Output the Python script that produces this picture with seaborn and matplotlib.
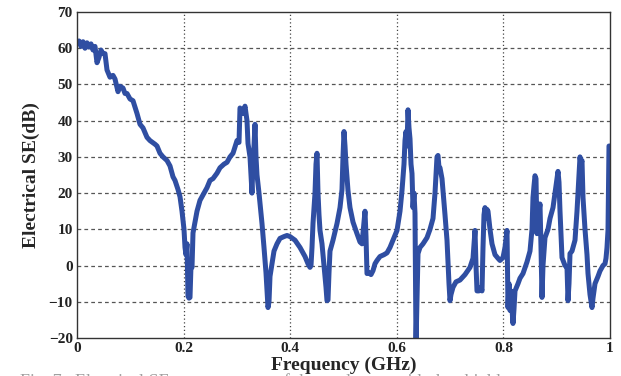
import numpy as np
import pandas as pd
import matplotlib
matplotlib.use("Agg")
import matplotlib.pyplot as plt
import seaborn as sns

# pixel-read curve: x pixel positions (axis 77..610 -> 0..1) and SE values (dB)
px = [77, 79, 81, 83, 85, 87, 89, 91, 93, 95, 97, 99, 101, 103, 105, 107, 110, 113, 115, 118,
      120, 123, 125, 127, 130, 133, 137, 140, 143, 147, 150, 155, 157, 160, 163, 167, 170, 173, 175, 178,
      180, 182, 184, 185, 186, 187, 188, 189, 190, 191, 192, 193, 195, 197, 200, 203, 207, 210, 213, 217,
      220, 224, 227, 230, 233, 237, 239, 240, 243, 245, 247, 248, 250, 251, 252, 253, 254, 255, 256, 257,
      259, 262, 264, 266, 268, 269, 270, 272, 274, 277, 280, 284, 287, 290, 295, 300, 305, 308, 310, 311,
      312, 313, 315, 316, 317, 318, 319, 320, 322, 324, 326, 327, 328, 329, 330, 333, 337, 340, 342, 343,
      344, 345, 346, 348, 350, 353, 357, 360, 362, 364, 365, 366, 367, 369, 371, 373, 375, 377, 380, 384,
      387, 390, 393, 397, 400, 402, 404, 405, 406, 407, 408, 409, 410, 411, 412, 413, 414, 415, 416, 417,
      418, 420, 423, 427, 430, 433, 435, 437, 438, 439, 440, 442, 443, 445, 447, 449, 450, 451, 453, 456,
      460, 465, 470, 473, 475, 476, 477, 479, 481, 482, 483, 484, 485, 486, 487, 488, 490, 492, 495, 498,
      500, 503, 505, 507, 508, 509, 510, 511, 512, 513, 514, 515, 518, 520, 523, 527, 530, 532, 533, 534,
      535, 536, 537, 538, 539, 540, 541, 542, 543, 545, 548, 550, 553, 555, 558, 559, 560, 562, 565, 567,
      568, 569, 570, 572, 575, 577, 579, 580, 581, 582, 583, 585, 587, 588, 590, 592, 593, 595, 598, 600,
      603, 605, 606, 607, 608, 609, 610]
se = [61.5, 62, 60.5, 61.8, 60, 61.5, 60.3, 61.2, 59.5, 60.5, 56, 57.5, 59.5, 58.5, 58.5, 54, 52, 52.5, 51.5, 48,
      49.5, 49, 47.5, 47.5, 46, 45.5, 42, 39, 38, 35.4, 34.5, 33.5, 33, 31, 30, 29, 27.5, 24.5, 23.5, 21,
      19, 15, 10, 5, 3, 6, -8.5, -9, -8.8, 0, -0.5, 9, 12, 15, 18, 19.5, 21.5, 23.5, 24, 25.5,
      27, 28, 28.5, 30, 31, 34.5, 34, 43.5, 42, 44, 40, 33.7, 30, 25, 20, 29, 33, 39, 30, 25,
      20, 11.6, 5, -2, -11.6, -10, -3, 0.5, 4, 6, 7.5, 8, 8.3, 8, 7, 5, 2.5, 0.5, -0.5, 0,
      5, 11.6, 20, 28, 31, 20, 14, 9.7, 6, 0, -6, -9.7, -9.5, -2, 4, 7, 11.6, 16, 21, 30,
      37, 33, 28, 20.7, 16, 12, 8.8, 6.5, 6, 12, 15, 8, -2.2, -2, -2.5, -1.4, 0.5, 1.4, 2.5, 3,
      3.5, 5, 7, 9.7, 15, 20.7, 28, 34.5, 37, 33, 43, 38, 35, 28, 25.4, 16, 20, 14.4, -22, -10,
      3.3, 5, 6, 7.7, 10, 13, 20, 30, 30.4, 27, 27, 24, 20.7, 14, 7, -5, -9.7, -8, -6, -4.5,
      -4, -2.5, -0.5, 2, 9.7, 0, -7, -7, -6, -7, 5, 14, 16, 13, 15.5, 15, 10, 6, 3, 2,
      1.4, 2.2, 5, 9.7, -11.6, -5, -12.4, -7, -12, -16, -12, -7, -5, -3.5, -2.2, 1, 4, 10, 18.8, 22,
      24.8, 24, 8.8, 17, 15, 17, 5, -8.8, 0, 7.7, 10, 13, 16, 20, 26, 23, 15, 2.2, 0, -0.5,
      -9.7, -5, 3.3, 4, 7, 15, 25, 30, 28, 29, 18.8, 10, 3, -2.2, -8, -11.6, -9, -5, -3, -1.5,
      0, 0.5, 2, 5, 9.7, 33, 33]

freq = [(p - 77) / 533.0 for p in px]
xticks = [0, 0.2, 0.4, 0.6, 0.8, 1]
xtick_labels = ["0", "0.2", "0.4", "0.6", "0.8", "1"]
yticks = [-20, -10, 0, 10, 20, 30, 40, 50, 60, 70]

df = pd.DataFrame({"Frequency": freq, "SE": se})

sns.set_style("white")
plt.rcParams["font.family"] = ["Liberation Serif", "DejaVu Serif"]

fig = plt.figure(figsize=(6.21, 3.76), dpi=100)
ax = fig.add_axes([77 / 621, 38 / 376, 533 / 621, 326 / 376])

sns.lineplot(data=df, x="Frequency", y="SE", ax=ax, color="#2f4ea2", lw=3.6,
             sort=False, estimator=None)

ax.set_xlim(0, 1)
ax.set_ylim(-20, 70)
ax.set_xticks(xticks)
ax.set_xticklabels(xtick_labels)
ax.set_yticks(yticks)

for x in xticks[1:-1]:
    ax.axvline(x, color="#444444", lw=0.9, ls=(0, (1, 2)), zorder=0)
for y in yticks[1:-1]:
    ax.axhline(y, color="#555555", lw=0.9, ls=(0, (3, 2.5)), zorder=0)

for s in ax.spines.values():
    s.set_color("#333333")
    s.set_linewidth(1.0)

ax.tick_params(axis="both", direction="in", length=3, labelsize=11, colors="#222222", pad=3)
for lab in ax.get_xticklabels() + ax.get_yticklabels():
    lab.set_fontweight("bold")

ax.set_xlabel("Frequency (GHz)", fontsize=14, fontweight="bold", labelpad=1)
ax.set_ylabel("Electrical SE(dB)", fontsize=14, fontweight="bold", labelpad=6)

# caption of the source figure, cut off by the bottom edge as in the reference
fig.text(20 / 621, 3 / 376, "Fig. 7.  Electrical SE measurement of the enclosure with the shield",
         fontsize=13, color="#a0a0a0", va="top", ha="left")

fig.savefig("out.png", dpi=100)
